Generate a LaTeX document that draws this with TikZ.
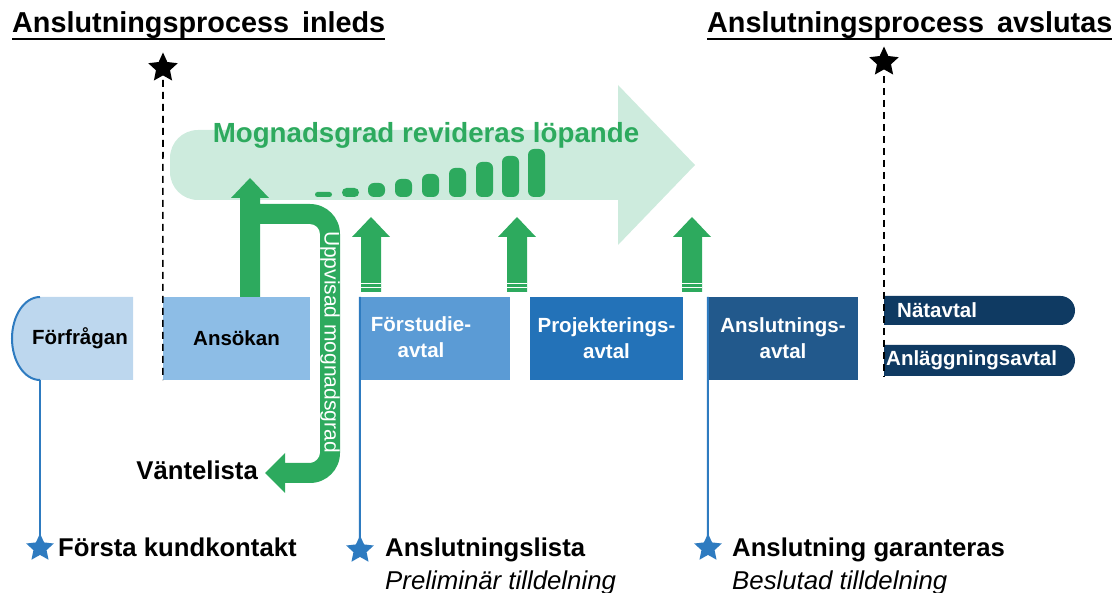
\documentclass[tikz,border=0pt]{standalone}
\usepackage{fontspec}
\setmainfont{Liberation Sans}
\usetikzlibrary{shapes.geometric,shapes.misc}
\definecolor{cReq}{HTML}{BDD7EE}
\definecolor{cAns}{HTML}{8DBDE6}
\definecolor{cFst}{HTML}{5B9BD5}
\definecolor{cProj}{HTML}{2372B8}
\definecolor{cAnsl}{HTML}{22598C}
\definecolor{cNav}{HTML}{0F3A62}
\definecolor{cBlue}{HTML}{2E7BC0}
\definecolor{mgreen}{HTML}{2DAA5E}
\definecolor{lgreen}{HTML}{CDEBDD}
\begin{document}
\begin{tikzpicture}[x=1pt,y=-1pt,
  box/.style={rectangle, inner sep=0pt, minimum height=83pt, text=white, align=center,
    font=\fontsize{20.5}{26}\selectfont\bfseries},
  pill/.style={rounded rectangle, rounded rectangle west arc=none, inner sep=0pt,
    fill=cNav, minimum width=191pt, text=white},
  boxtxt/.style={inner sep=0pt, text=white, font=\fontsize{20.5}{26}\selectfont\bfseries},
  title/.style={inner sep=0pt, font=\fontsize{28.8}{30}\selectfont\bfseries},
  bot/.style={inner sep=0pt, font=\fontsize{25.7}{28}\selectfont\bfseries},
  ital/.style={inner sep=0pt, font=\fontsize{25.8}{28}\selectfont\itshape},
  kstar/.style={star, star points=5, star point ratio=2.1, minimum size=31pt, inner sep=0pt, fill=black},
  bstar/.style={star, star points=5, star point ratio=2.1, minimum size=29pt, inner sep=0pt, fill=cBlue},
  bline/.style={draw=cBlue, line width=2pt},
  kdash/.style={draw=black, line width=1.6pt, dash pattern=on 7pt off 5pt}
]
\useasboundingbox (0,0) rectangle (1120,593);

% titles
\node[title, anchor=base west] (h1) at (12,33) {Anslutningsprocess\hspace{0.45em}inleds};
\node[title, anchor=base west] (h2) at (707,33) {Anslutningsprocess\hspace{0.45em}avslutas};
\draw[line width=2pt] ([yshift=-6pt]h1.base west) -- ([yshift=-6pt]h1.base east);
\draw[line width=2pt] ([yshift=-6pt]h2.base west) -- ([yshift=-6pt]h2.base east);

% big light arrow
\fill[lgreen] (618,130) -- (618,85) -- (695,165) -- (618,245) -- (618,200) -- (198,200)
  .. controls (182.5,200) and (170,187.5) .. (170,172) -- (170,158)
  .. controls (170,142.5) and (182.5,130) .. (198,130) -- cycle;
\node[inner sep=0pt, anchor=base, text=mgreen, font=\fontsize{27.7}{30}\selectfont\bfseries] (mog) at (426,143) {Mognadsgrad revideras löpande};

% bars
\foreach \x/\t/\r in {315/192/2.5,342/188/4.5,368/183/6,395/179/6,422/174/6,449/168/6,476/162/6,502/156/6,528/149/6}
  \fill[mgreen, rounded corners=\r pt] (\x,\t) rectangle ({\x+17},197);

% boxes
\fill[cReq] (133,297) -- (40,297) .. controls (24.5,297) and (12,315.6) .. (12,338.5)
  .. controls (12,361.4) and (24.5,380) .. (40,380) -- (133,380) -- cycle;
\draw[cBlue, line width=2pt] (40,297) .. controls (24.5,297) and (12,315.6) .. (12,338.5)
  .. controls (12,361.4) and (24.5,380) .. (40,380);
\coordinate (forfb) at (40,380);
\node[boxtxt, text=black] (forf) at (80,338.5) {Förfrågan};
\node[box, fill=cAns, minimum width=147pt, text=black] (ans) at (236.5,338.5) {Ansökan};
\node[box, fill=cFst, minimum width=150pt] (fst) at (435,338.5) {};
\node[boxtxt, align=center] (fstt) at (421,337) {Förstudie-\\avtal};
\node[box, fill=cProj, minimum width=153pt] (proj) at (606.5,338.5) {Projekterings-\\avtal};
\node[box, fill=cAnsl, minimum width=150pt] (ansl) at (783,338.5) {Anslutnings-\\avtal};
\node[pill, minimum height=29pt] (nat) at (979.5,310.5) {};
\node[boxtxt, anchor=west] (natt) at (897,310.5) {Nätavtal};
\node[pill, minimum height=31pt] (anl) at (979.5,360.5) {};
\node[boxtxt, anchor=west] (anlt) at (886,360.5) {Anläggningsavtal};

% green h arrow
\fill[mgreen] (240,297) -- (240,198) -- (231,198) -- (250,178) -- (269,198) -- (260,198) -- (260,204)
  -- (310,204) .. controls (326.6,204) and (340,217.4) .. (340,234) -- (340,453)
  .. controls (340,469.6) and (326.6,483) .. (310,483) -- (285,483) -- (285,493) -- (265,473)
  -- (285,453) -- (285,463) -- (310,463) .. controls (315.5,463) and (320,457.5) .. (320,453)
  -- (320,234) .. controls (320,228.5) and (315.5,224) .. (310,224) -- (260,224) -- (260,297) -- cycle;
\node[rotate=-90, inner sep=0pt, text=white, font=\fontsize{21}{21}\selectfont] (upp) at (330,342) {Uppvisad mognadsgrad};
\node[bot, anchor=base east] (vant) at (258,480) {Väntelista};

% small green arrows
\foreach \c in {371,517,692} {
  \fill[mgreen] ({\c-10},292) -- ({\c-10},237) -- ({\c-19},237) -- (\c,217) -- ({\c+19},237)
    -- ({\c+10},237) -- ({\c+10},292) -- cycle;
  \draw[white, line width=0.8pt] ({\c-10},283.5) -- ({\c+10},283.5);
  \draw[white, line width=0.8pt] ({\c-10},287.5) -- ({\c+10},287.5);
}

% black stars and dashed lines
\node[kstar] (k1) at (163,68) {};
\node[kstar] (k2) at (884,62) {};
\coordinate (k2end) at (884,377);
\coordinate (k1top) at (163,80);
\coordinate (k2top) at (884,76);
\draw[kdash] (k1top) -- (ans.south west);
\draw[kdash] (k2top) -- (k2end);

% blue stars and lines
\node[bstar] (s1) at (40,548) {};
\node[bstar] (s2) at (360,550) {};
\node[bstar] (s3) at (708,548) {};
\draw[bline] (forfb) -- (s1.center);
\draw[bline] (fst.north west) -- (s2.center);
\draw[bline] (ansl.north west) -- (s3.center);

% bottom labels
\node[bot, anchor=base west] (b1) at (58,557) {Första kundkontakt};
\node[bot, anchor=base west] (b2) at (385,557) {Anslutningslista};
\node[ital, anchor=base west] (b3) at (385,589) {Preliminär tilldelning};
\node[bot, anchor=base west] (b4) at (732,557) {Anslutning garanteras};
\node[ital, anchor=base west] (b5) at (732,589) {Beslutad tilldelning};
\end{tikzpicture}
\end{document}
